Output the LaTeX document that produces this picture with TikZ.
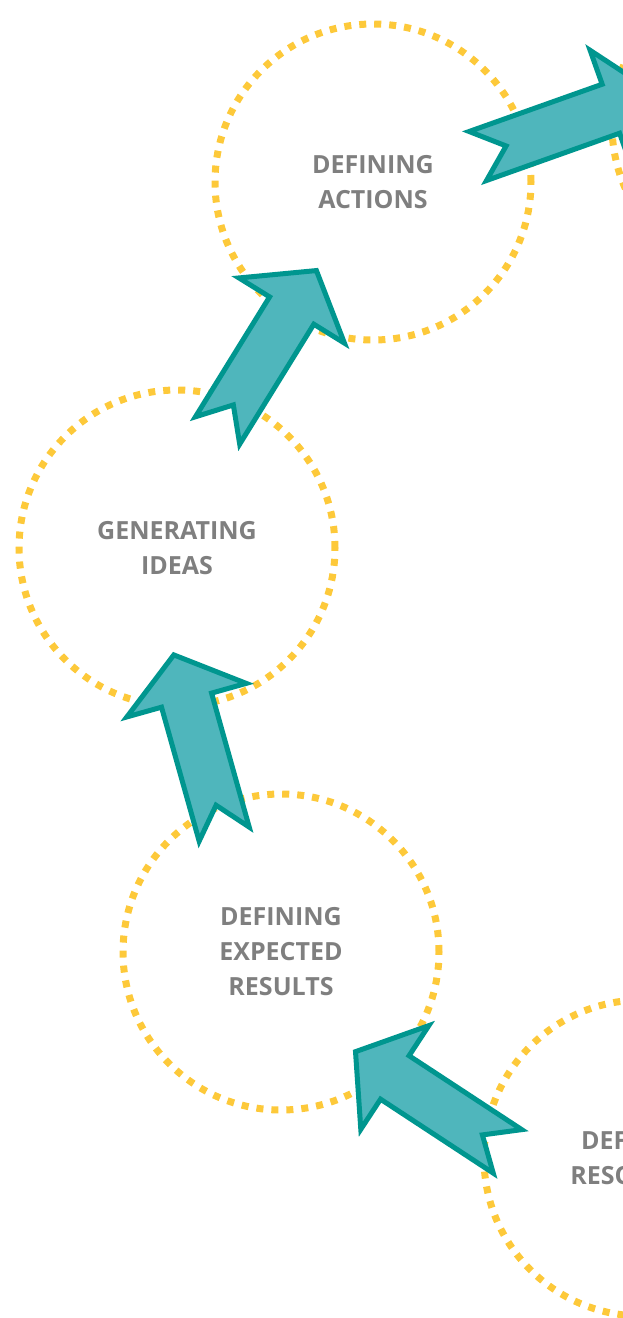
\documentclass[tikz,border=0pt]{standalone}
\usepackage{fontspec}
\setmainfont{Open Sans}
\usepackage{tikz}
\usetikzlibrary{calc}

\definecolor{dotyellow}{HTML}{FDC93A}
\definecolor{arrowfill}{HTML}{4FB6BC}
\definecolor{arrowline}{HTML}{00968F}
\definecolor{labelgray}{HTML}{7F7F7F}

% fat arrow with a notched tail, from #1 (tail) to #2 (tip)
\newcommand{\fatarrow}[2]{%
  \draw[flow] let \p1 = ($(#2)-(#1)$), \n1 = {atan2(\y1,\x1)}, \n2 = {veclen(\x1,\y1)} in
    [shift={(#1)}, rotate=\n1]
    (3pt,26pt) -- ({(\n2-50)*1pt},26pt) -- ({(\n2-50)*1pt},62pt) -- ({(\n2-3)*1pt},0pt)
    -- ({(\n2-50)*1pt},-62pt) -- ({(\n2-50)*1pt},-26pt) -- (3pt,-26pt) -- (33pt,0pt) -- cycle;}

\begin{document}
\begin{tikzpicture}[x=1pt, y=-1pt]
\tikzset{stage/.style = {circle, draw=dotyellow, line width=7pt, dash pattern=on 7pt off 8pt,
           minimum size=316pt, inner sep=0pt, align=center, text=labelgray,
           font=\fontsize{25}{35}\selectfont\bfseries},
         flow/.style = {fill=arrowfill, draw=arrowline, line width=5pt, line join=miter}}
\useasboundingbox (0,0) rectangle (623,1318);
\clip (0,0) rectangle (623,1318);
            % vertices
	\node[stage] (actions) at (373,182) {DEFINING\\ACTIONS};
	\node[stage] (ideas) at (177,548) {GENERATING\\IDEAS};
	\node[stage] (expected) at (281,952) {DEFINING\\EXPECTED\\RESULTS};
	\node[stage] (resources) at (642,1158) {DEFINING\\RESOURCES};
	\node[stage] (next) at (770,125) {};
            % arrow ends
	\coordinate (t1) at (475,157);
	\coordinate (h1) at (658,92);
	\coordinate (t2) at (216,433);
	\coordinate (h2) at (318,268);
	\coordinate (t3) at (225,837);
	\coordinate (h3) at (173,652);
	\coordinate (t4) at (510,1153);
	\coordinate (h4) at (353,1050);
            %edges
	\fatarrow{t1}{h1}
	\fatarrow{t2}{h2}
	\fatarrow{t3}{h3}
	\fatarrow{t4}{h4}
\end{tikzpicture}
\end{document}
